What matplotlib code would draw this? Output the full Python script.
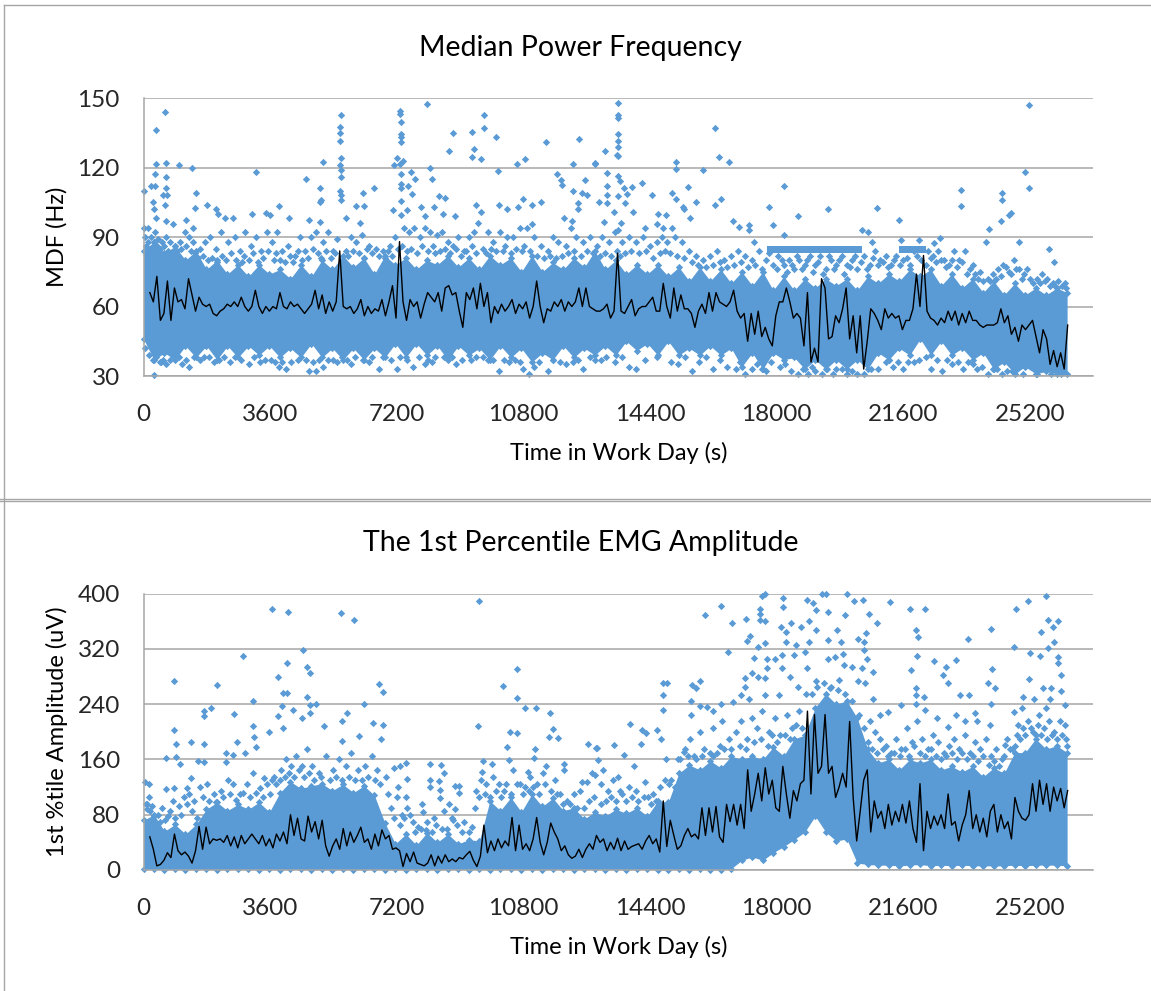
# Median power frequency and 1st percentile EMG amplitude over a work day
import numpy as np
import matplotlib
matplotlib.use("Agg")
import matplotlib.pyplot as plt
from matplotlib.lines import Line2D

plt.rcParams["font.family"] = ["Lato", "DejaVu Sans"]

BLUE = "#5B9BD5"
GRID = "#A6A6A6"
W, H = 1151, 991

time_ticks = [0, 3600, 7200, 10800, 14400, 18000, 21600, 25200]
mdf_ticks = [30, 60, 90, 120, 150]
amp_ticks = [0, 80, 160, 240, 320, 400]

# ----------------------------------------
# Median power frequency (Hz)
# ----------------------------------------
# dense part of the cloud, upper and lower edge
mdf_band_hi = [84, 88, 83, 86, 80, 84, 76, 80, 74, 78,
               73, 78, 74, 76, 72, 78, 73, 80, 76, 82,
               77, 81, 74, 82, 78, 81, 76, 80, 78, 82,
               77, 81, 76, 82, 78, 81, 75, 82, 75, 79,
               76, 81, 77, 84, 76, 80, 74, 78, 74, 78,
               73, 77, 71, 77, 71, 76, 70, 75, 69, 75,
               67, 73, 67, 72, 68, 72, 69, 72, 67, 73,
               70, 74, 71, 76, 73, 76, 69, 74, 68, 72,
               66, 71, 65, 70, 65, 68, 65, 68, 66]
mdf_band_lo = [46, 37, 40, 37, 43, 38, 43, 37, 43, 38,
               43, 39, 43, 38, 42, 38, 44, 38, 42, 37,
               42, 37, 42, 38, 44, 38, 44, 39, 43, 37,
               43, 39, 42, 37, 43, 38, 42, 36, 40, 37,
               43, 38, 42, 39, 43, 39, 45, 41, 44, 39,
               45, 39, 42, 39, 43, 39, 42, 34, 40, 33,
               40, 37, 38, 33, 37, 33, 37, 33, 37, 33,
               40, 37, 42, 39, 46, 39, 45, 39, 42, 37,
               40, 33, 36, 31, 34, 31, 32, 31, 31]

# single points above and below the dense part
mdf_points = [
    (598, 144), (359, 136), (0, 110), (359, 121.5), (326, 117), (218, 112), (326, 112), (631, 122),
    (631, 116), (653, 111), (544, 108), (675, 108), (598, 104), (272, 105), (294, 102), (359, 98),
    (0, 94), (141, 94), (653, 97), (849, 95.5), (1012, 121), (1382, 120), (1501, 109), (1469, 102.5),
    (1219, 97.5), (1414, 94), (1817, 104), (2067, 102), (2122, 100), (2317, 98), (2535, 98), (3079, 100),
    (3210, 118), (3482, 100.5), (3590, 99.5), (3841, 103.5), (4134, 98), (4624, 115), (4711, 97.5),
    (5027, 111), (5092, 122.5), (5059, 106), (5005, 105), (5005, 96.5), (5603, 142.5), (5582, 137.5),
    (5582, 135), (5582, 131.5), (5603, 124), (5582, 121), (5603, 119), (5603, 116), (5582, 110),
    (5603, 108), (5603, 106), (5745, 98), (6038, 103.5), (6234, 109), (6256, 103.5), (6561, 111),
    (6147, 96), (7105, 101.5), (7290, 144.5), (7290, 143), (7322, 139.5), (7311, 134.5), (7311, 133),
    (7311, 131), (7126, 121), (7214, 124), (7365, 123), (7290, 121.5), (7311, 117), (7311, 113),
    (7311, 111), (7311, 105.5), (7616, 118), (7725, 115), (7529, 112), (7627, 108.5), (7496, 101.5),
    (7311, 99.5), (8062, 147.5), (8160, 120), (8214, 115), (7888, 103), (8400, 107.5), (8573, 107),
    (8269, 103), (8000, 99), (8519, 100), (8867, 99), (8682, 127), (8813, 135), (9335, 135.5),
    (9390, 128), (9335, 124.5), (9585, 123.5), (9694, 142.5), (9694, 137), (10020, 133), (10086, 118.5),
    (9444, 104), (10097, 104), (10336, 102), (9607, 101), (10630, 121.5), (10858, 123.5), (11456, 131),
    (11750, 117), (11859, 114.5), (11892, 112.5), (10793, 106.5), (10662, 103), (11043, 104),
    (11293, 105), (11043, 95.5), (11946, 98), (12207, 121.5), (12381, 132.5), (12566, 114.5),
    (12838, 121.7), (12207, 110), (12457, 109), (12599, 108), (12348, 104.5), (12348, 102), (12186, 97),
    (12947, 105), (13485, 148), (13485, 142.5), (13507, 141.5), (13507, 134.5), (13485, 131.5),
    (13485, 129), (13474, 125.5), (13507, 125), (13131, 127), (12842, 122), (13185, 117.5), (13485, 116.5),
    (13560, 114), (13174, 112), (13667, 111), (13903, 111.5), (14171, 113.5), (13753, 108.5),
    (13485, 107.5), (13174, 108), (14450, 108), (13185, 104.5), (13700, 104.5), (13378, 101), (13914, 101),
    (14632, 100), (14847, 99.5), (13099, 96.5), (13592, 96), (13507, 93), (14257, 94), (14600, 95.5),
    (14761, 94), (15018, 94), (15136, 122.5), (15136, 119.5), (15919, 119), (15040, 109), (15136, 106.5),
    (15490, 111.5), (15704, 105), (15329, 103), (15383, 102), (15543, 98), (16240, 137), (16369, 124.7),
    (16637, 122.5), (16423, 106.5), (16250, 104), (16776, 97), (16937, 94.5), (17205, 95), (17205, 93),
    (17355, 88), (17784, 103), (17912, 95), (18223, 112), (18223, 91), (18599, 99), (19456, 102),
    (20442, 93), (20592, 92), (20850, 102.5), (20710, 88), (21493, 97.5), (21547, 88.5), (22061, 88.5),
    (22651, 89.5), (22490, 87.5), (23240, 110.5), (23251, 103.5), (24387, 97), (24409, 109), (24409, 106),
    (24602, 99.5), (24677, 100.5), (24044, 93.5), (23959, 88), (24891, 88), (25073, 118), (25170, 111),
    (25181, 147), (25738, 85), (25888, 79),
]

# looser points just outside the dense part
mdf_speckle = [
    (50, 90), (120, 88), (200, 90), (320, 92), (420, 89), (520, 88), (640, 90), (760, 88), (900, 86),
    (1050, 88), (1180, 92), (1300, 90), (1420, 88), (1600, 85), (1750, 88), (1900, 90), (2050, 85),
    (2200, 92), (2400, 88), (2600, 90), (2750, 84), (2900, 92), (3050, 86), (3200, 90), (3350, 84),
    (3500, 92), (3650, 88), (3800, 92), (3950, 84), (4100, 86), (4300, 82), (4450, 90), (4600, 84),
    (4750, 90), (4900, 92), (5100, 88), (5250, 92), (5400, 84), (5500, 89), (5750, 84), (5900, 90),
    (6050, 88), (6200, 91), (6400, 86), (6600, 85), (6800, 84), (7000, 86), (7150, 90), (7400, 94),
    (7550, 92), (7700, 94), (7850, 90), (8000, 94), (8150, 92), (8350, 91), (8500, 92), (8650, 88),
    (8800, 86), (8950, 90), (9100, 84), (9250, 90), (9400, 92), (9500, 96), (9800, 92), (9950, 88),
    (10150, 92), (10350, 90), (10500, 90), (10700, 94), (10900, 94), (11100, 90), (11300, 86), (11500, 84),
    (11650, 90), (11800, 88), (12000, 86), (12150, 94), (12300, 90), (12500, 88), (12700, 90), (12900, 86),
    (13050, 90), (13250, 88), (13400, 92), (13600, 88), (13800, 90), (14000, 88), (14200, 90), (14400, 86),
    (14600, 88), (14750, 90), (14900, 88), (15100, 90), (15300, 88), (15500, 84), (15700, 82), (15900, 80),
    (16100, 82), (16300, 84), (16500, 80), (16700, 82), (16900, 84), (17100, 82), (17300, 80), (17500, 84),
    (17700, 80), (17900, 78), (18050, 82), (18200, 78), (18350, 80), (18500, 76), (18650, 80), (18800, 78),
    (18950, 82), (19100, 78), (19250, 82), (19400, 76), (19550, 80), (19700, 78), (19850, 82), (20000, 78),
    (20150, 80), (20300, 76), (20500, 82), (20650, 78), (20800, 84), (20950, 80), (21100, 82), (21250, 78),
    (21400, 82), (21600, 80), (21800, 78), (22000, 82), (22300, 84), (22450, 82), (22600, 84), (22750, 80),
    (22900, 78), (23050, 84), (23200, 80), (23350, 84), (23500, 76), (23650, 74), (23800, 75), (24000, 72),
    (24150, 74), (24300, 76), (24450, 78), (24600, 75), (24750, 80), (24900, 76), (25050, 74), (25200, 72),
    (25400, 72), (25550, 74), (25700, 72), (25850, 70), (26000, 71), (26230, 68),
    (300, 30.5), (500, 36), (650, 35), (1100, 35), (1300, 34), (1600, 37), (2000, 36), (2450, 36),
    (3000, 35), (3300, 36), (3850, 34), (4050, 33), (4700, 32), (4900, 32), (5100, 34), (5500, 36),
    (5900, 35), (6400, 36), (6700, 33), (7200, 33), (7650, 34), (8000, 35), (8200, 36), (8900, 35),
    (9300, 37), (9800, 37), (10100, 32), (10400, 36), (10800, 33), (10950, 31), (11100, 34), (11500, 32),
    (12000, 35), (12200, 36), (12500, 33), (13000, 37), (13400, 36), (13800, 34), (14000, 33), (15000, 36),
    (15200, 35), (15600, 32), (16200, 33), (16600, 34), (17100, 31), (17300, 33), (17700, 32), (18400, 32),
    (18900, 31), (19100, 32), (19300, 31), (19700, 33), (20000, 31), (20300, 31), (20500, 31), (20900, 33),
    (21300, 34), (21600, 33), (21900, 36), (22400, 33), (22700, 32), (23000, 35), (23300, 33), (23700, 33),
    (24000, 31), (24400, 31), (24700, 32), (25000, 31), (25400, 31), (25800, 31), (26100, 31),
]

# points right on the edge of the dense part
mdf_edge = [
    (80, 86), (210, 84), (290, 88), (370, 86), (470, 85), (580, 86), (690, 84), (830, 83), (960, 84),
    (1080, 85), (1210, 86), (1340, 84), (1470, 83), (1560, 81), (1690, 82), (1820, 80), (1950, 81),
    (2100, 79), (2230, 82), (2340, 80), (2480, 83), (2630, 80), (2790, 79), (2860, 82), (2990, 80),
    (3120, 83), (3260, 79), (3400, 81), (3530, 84), (3700, 80), (3760, 83), (3890, 80), (4020, 79),
    (4180, 82), (4260, 79), (4380, 84), (4520, 80), (4680, 81), (4820, 85), (4970, 83), (5060, 81),
    (5180, 84), (5320, 81), (5450, 83), (5660, 80), (5820, 82), (5970, 84), (6120, 83), (6280, 81),
    (6360, 85), (6510, 83), (6700, 82), (6880, 81), (6950, 84), (7080, 82), (7230, 85), (7340, 86),
    (7480, 84), (7600, 85), (7780, 83), (7930, 86), (8080, 84), (8230, 86), (8300, 83), (8420, 84),
    (8580, 85), (8720, 83), (8880, 85), (9020, 82), (9170, 84), (9330, 86), (9460, 83), (9640, 85),
    (9730, 83), (9870, 85), (10010, 84), (10210, 84), (10290, 86), (10440, 83), (10590, 85), (10760, 84),
    (10830, 86), (10990, 84), (11180, 82), (11380, 81), (11560, 82), (11720, 81), (11900, 82), (12070, 83),
    (12230, 84), (12430, 82), (12620, 84), (12790, 83), (12990, 82), (13130, 83), (13300, 82), (13460, 84),
    (13550, 82), (13690, 83), (13850, 84), (14080, 83), (14280, 84), (14480, 81), (14680, 83), (14820, 84),
    (14980, 83), (15170, 82), (15360, 81), (15600, 79), (15780, 78), (15990, 77), (16190, 78), (16400, 79),
    (16590, 77), (16800, 78), (17000, 79), (17200, 77), (17400, 78), (17600, 76), (17800, 83), (18000, 76),
    (18150, 80), (18290, 75), (18430, 78), (18570, 82), (18730, 76), (18880, 80), (19030, 75), (19180, 79),
    (19330, 74), (19480, 82), (19630, 76), (19780, 80), (19930, 74), (20080, 77), (20230, 82), (20400, 79),
    (20580, 76), (20730, 81), (20880, 78), (21030, 79), (21180, 77), (21330, 80), (21500, 78), (21700, 81),
    (21900, 84), (22100, 80), (22250, 78), (22380, 81), (22530, 79), (22680, 80), (22830, 77), (22980, 80),
    (23120, 77), (23280, 79), (23430, 74), (23580, 78), (23720, 72), (23880, 71), (24080, 71), (24230, 72),
    (24380, 73), (24520, 77), (24680, 74), (24820, 76), (24980, 72), (25120, 76), (25280, 70), (25480, 70),
    (25630, 71), (25780, 69), (25930, 69), (26120, 69), (26200, 70),
    (40, 42), (150, 39), (260, 37), (360, 38), (460, 36), (560, 37), (760, 37), (880, 38), (1000, 38),
    (1220, 37), (1450, 38), (1720, 38), (1850, 38), (2150, 37), (2280, 38), (2600, 38), (2780, 37),
    (3150, 38), (3450, 37), (3620, 37), (3740, 36), (3950, 36), (4200, 36), (4400, 37), (4620, 37),
    (4820, 36), (5000, 37), (5250, 37), (5380, 37), (5650, 38), (5800, 37), (6020, 38), (6250, 37),
    (6500, 38), (6820, 38), (7050, 37), (7300, 38), (7480, 37), (7820, 38), (8080, 37), (8300, 38),
    (8550, 38), (8780, 38), (9050, 37), (9450, 38), (9650, 38), (9950, 37), (10250, 37), (10550, 37),
    (10700, 36), (11250, 36), (11650, 37), (11850, 36), (12350, 37), (12700, 38), (12850, 37), (13150, 38),
    (13600, 38), (14250, 37), (14600, 38), (15400, 38), (15800, 36), (16000, 38), (16400, 37), (16850, 33),
    (16950, 36), (17450, 35), (17600, 33), (17850, 36), (18100, 34), (18250, 35), (18600, 31), (18750, 33),
    (19000, 34), (19450, 33), (19600, 31), (19850, 33), (20150, 32), (20700, 33), (21100, 36), (21200, 37),
    (21450, 36), (21750, 36), (22050, 37), (22250, 38), (22550, 37), (22850, 37), (23150, 36), (23450, 36),
    (23600, 35), (23850, 34), (24150, 33), (24280, 33), (24550, 32), (24850, 33),
]

# flat row of points near 85 Hz in the afternoon
mdf_ledge_t = [17740, 20420, 21490, 22240]
mdf_ledge_top = [86.2, 86.2, 86.2, 86.2]
mdf_ledge_bottom = [83.2, 83.2, 83.2, 83.2]

# moving average, one value per 100 s from 180 s
mdf_line = [66, 62, 73, 54, 57, 71, 54, 68, 62, 63,
            59, 72, 65, 58, 64, 61, 60, 61, 57, 56,
            58, 59, 61, 60, 62, 60, 64, 60, 58, 60,
            67, 60, 57, 60, 58, 60, 59, 66, 60, 59,
            62, 60, 61, 59, 57, 59, 61, 67, 59, 65,
            57, 62, 58, 62, 84, 60, 59, 60, 57, 59,
            63, 56, 60, 57, 59, 58, 63, 56, 62, 69,
            55, 88, 62, 54, 63, 60, 62, 55, 61, 66,
            64, 62, 66, 58, 68, 69, 65, 66, 58, 51,
            66, 63, 68, 59, 70, 60, 66, 53, 60, 57,
            61, 58, 60, 63, 57, 61, 59, 62, 55, 60,
            71, 60, 53, 59, 58, 62, 60, 63, 58, 62,
            60, 62, 68, 60, 68, 60, 59, 58, 58, 59,
            61, 55, 58, 83, 58, 57, 60, 63, 56, 59,
            60, 60, 62, 64, 58, 58, 70, 60, 55, 68,
            58, 65, 59, 59, 57, 51, 58, 61, 57, 66,
            58, 66, 62, 61, 60, 62, 67, 58, 55, 57,
            45, 57, 48, 58, 47, 51, 46, 43, 56, 62,
            62, 68, 62, 55, 57, 55, 43, 66, 36, 42,
            36, 72, 68, 46, 47, 56, 53, 59, 68, 46,
            56, 40, 56, 33, 45, 59, 57, 54, 50, 59,
            55, 57, 55, 56, 50, 54, 54, 59, 74, 60,
            82, 58, 55, 54, 52, 55, 53, 58, 54, 58,
            52, 57, 53, 58, 54, 54, 52, 51, 52, 52,
            52, 53, 59, 53, 56, 48, 51, 45, 52, 50,
            52, 54, 47, 40, 50, 46, 35, 41, 34, 40,
            33, 52]

# ----------------------------------------
# 1st percentile amplitude (uV)
# ----------------------------------------
amp_band_hi = [72, 80, 56, 66, 52, 66, 88, 98, 86, 95,
               88, 98, 84, 112, 128, 118, 122, 125, 115, 124,
               112, 122, 108, 68, 38, 52, 36, 54, 40, 52,
               38, 44, 42, 100, 86, 105, 84, 110, 92, 104,
               86, 90, 74, 84, 78, 88, 82, 90, 78, 100,
               98, 140, 152, 145, 158, 148, 165, 160, 165, 160,
               178, 165, 190, 195, 235, 255, 240, 245, 220, 175,
               155, 160, 145, 160, 155, 160, 145, 150, 142, 150,
               135, 148, 140, 170, 170, 190, 175, 180, 170]
amp_band_lo = [1, 1, 0, 1, 0, 1, 1, 0, 1, 1,
               1, 0, 1, 0, 1, 1, 0, 1, 0, 1,
               0, 1, 1, 0, 1, 0, 1, 1, 0, 1,
               1, 0, 1, 0, 1, 1, 0, 1, 0, 1,
               1, 0, 1, 1, 0, 1, 0, 1, 1, 0,
               0, 1, 0, 1, 0, 0, 2, 14, 19, 14,
               25, 34, 44, 55, 78, 55, 42, 45, 10, 8,
               7, 7, 6, 7, 8, 6, 7, 6, 7, 6,
               6, 6, 6, 7, 6, 7, 7, 7, 6]

amp_points = [
    (3645, 378), (4102, 374), (5603, 372), (5995, 362), (9531, 390), (2829, 310), (4548, 318), (4080, 300),
    (4646, 294), (4733, 285), (3819, 280), (870, 273), (2100, 268), (6691, 269), (6822, 257), (3971, 256),
    (4080, 256), (4646, 250), (3101, 244), (6278, 240), (4918, 240), (4733, 239), (3939, 237), (1708, 230),
    (1708, 223), (1926, 235), (2568, 226), (4265, 231), (3819, 223), (4515, 220), (4733, 227), (5788, 227),
    (5636, 216), (6528, 213), (6800, 210), (5146, 208), (3101, 209), (3971, 206), (870, 202), (3569, 200),
    (3133, 193), (6125, 194), (2666, 186), (1360, 186), (1719, 182), (925, 182), (5636, 187), (6746, 190),
    (9520, 209), (10630, 291), (10227, 266), (10630, 249), (10858, 235), (11152, 234), (11555, 228),
    (10423, 200), (10630, 199), (11642, 204), (11533, 193), (11783, 191), (11130, 175), (12653, 182),
    (12871, 176), (9651, 158), (8138, 153), (8454, 152), (7453, 155), (7290, 150), (7126, 147), (8541, 140),
    (7496, 132), (8138, 130), (8400, 129), (8867, 122), (8976, 122), (7235, 120), (8138, 120), (8432, 116),
    (8976, 112), (7453, 106), (8432, 104), (8867, 89), (7932, 96), (7943, 84), (33, 128), (163, 124),
    (163, 105), (109, 96), (653, 117), (653, 162), (925, 164), (1034, 154), (1719, 157), (1545, 158),
    (2339, 157), (2339, 169), (2557, 166), (3210, 178), (2883, 169), (3427, 133), (3645, 130), (1251, 118),
    (870, 118), (1360, 133), (9629, 142), (9900, 154), (10336, 178), (10390, 159), (10934, 142), (11098, 162),
    (11968, 154), (11968, 145), (12620, 128), (12457, 128), (12838, 137),
    (13367, 181), (12885, 176), (13828, 212), (14171, 202), (14289, 198), (14600, 202), (14150, 183),
    (14718, 190), (13667, 166), (12917, 159), (13078, 145), (13507, 135), (13935, 150), (14257, 128),
    (14771, 270), (14900, 270), (14761, 253), (14761, 232), (15597, 268), (15812, 273), (15704, 264),
    (15565, 245), (15575, 224), (15812, 237), (16026, 236), (16187, 230), (16423, 240), (15972, 369),
    (16412, 382), (16744, 358), (17130, 363), (16616, 316), (17258, 339), (17151, 331), (17527, 378),
    (17527, 370), (17580, 396), (17687, 400), (18191, 394), (18191, 381), (17687, 361), (17527, 362),
    (17687, 328), (17473, 323), (17366, 307), (17720, 305), (17956, 306), (17720, 293), (17312, 285),
    (17473, 280), (17687, 278), (17098, 278), (17098, 265), (18116, 352), (18406, 357), (18706, 352),
    (18867, 391), (19027, 386), (19113, 376), (19295, 400), (19402, 400), (20014, 400), (19478, 373),
    (19960, 369), (20207, 390), (20454, 391), (20635, 370), (20850, 358), (21225, 388), (21804, 378),
    (22222, 378), (21954, 348), (22029, 337), (24087, 349), (23444, 334), (24763, 323), (24805, 378),
    (25148, 390), (25674, 397), (25727, 362), (25995, 360), (25867, 352), (25513, 345), (25899, 330),
    (25717, 321), (25202, 314), (25481, 310), (25995, 309), (25995, 300), (26092, 282), (25170, 276),
    (25577, 264), (25813, 264), (26081, 259), (25309, 248), (25009, 250), (24119, 291), (24012, 270),
    (24205, 264), (23208, 254), (23476, 254), (24098, 241), (22726, 283), (22833, 294), (22865, 270),
    (22479, 302), (23101, 304), (21997, 310), (21815, 290), (21975, 263), (21975, 253), (21975, 241),
    (22190, 250), (22222, 232), (21547, 239), (20957, 224), (21171, 229), (23101, 224), (23636, 228),
    (20742, 286), (20582, 306), (20475, 318), (20550, 343), (20475, 330), (20314, 335), (20153, 294),
    (20421, 292), (20528, 270), (20742, 248), (20314, 273), (19831, 330), (19885, 313), (19724, 347),
    (19456, 333), (19478, 306), (19670, 309), (19906, 297), (19778, 275), (19510, 264), (19135, 273),
    (18867, 292), (18813, 316), (18920, 330), (18545, 326), (18492, 311), (18170, 311), (18170, 292),
    (18384, 280), (18599, 265), (18062, 253), (17687, 253), (17205, 248), (16990, 253), (16776, 243),
    (16455, 215), (16187, 205), (15812, 200), (15543, 190), (15383, 171), (18277, 345), (18920, 360),
    (19135, 347), (18277, 330), (22565, 220), (22887, 207), (23364, 215), (23690, 215), (24065, 210),
    (24494, 181), (24763, 229), (24977, 234), (25674, 234), (26210, 239), (26210, 210), (25770, 248),
    (25460, 224), (24870, 210),
]

# looser points just above the dense part
amp_speckle = [
    (100, 88), (250, 92), (400, 80), (520, 90), (700, 78), (850, 100), (1000, 92), (1150, 105), (1300, 110),
    (1450, 100), (1600, 120), (1800, 125), (2000, 110), (2200, 115), (2400, 130), (2550, 125), (2750, 110),
    (2950, 125), (3100, 140), (3300, 118), (3500, 125), (3700, 135), (3900, 145), (4050, 160), (4200, 150),
    (4350, 165), (4500, 150), (4650, 175), (4800, 150), (5000, 140), (5200, 165), (5400, 145), (5550, 160),
    (5750, 150), (5900, 170), (6100, 145), (6300, 150), (6500, 165), (6650, 145), (6900, 135), (7050, 90),
    (7200, 105), (7350, 80), (7500, 90), (7650, 70), (7800, 62), (8050, 70), (8250, 75), (8550, 85),
    (8700, 95), (8800, 72), (9100, 70), (9250, 55), (9450, 115), (9600, 130), (9750, 125), (9950, 135),
    (10100, 125), (10250, 115), (10500, 145), (10700, 125), (10850, 120), (11000, 135), (11200, 125),
    (11350, 140), (11450, 150), (11700, 130), (11850, 110), (12050, 100), (12250, 110), (12400, 115),
    (12750, 140), (13000, 125), (13200, 115), (13350, 130), (13600, 110), (13800, 120), (14000, 115),
    (14350, 105), (14500, 110), (14850, 160), (15000, 130), (15200, 160), (15400, 175), (15650, 165),
    (15950, 175), (16200, 165), (16400, 180), (16650, 190), (16850, 200), (17000, 215), (17150, 190),
    (17300, 220), (17450, 205), (17600, 230), (17800, 200), (17950, 220), (18100, 195), (18300, 225),
    (18450, 205), (18650, 230), (20350, 225), (20500, 205), (20650, 215), (20800, 200), (20950, 190),
    (21100, 180), (21250, 170), (21400, 190), (21550, 175), (21700, 205), (21850, 185), (22000, 215),
    (22150, 190), (22300, 175), (22450, 195), (22600, 185), (22750, 170), (22900, 180), (23050, 190),
    (23200, 175), (23350, 195), (23500, 170), (23650, 185), (23800, 175), (23950, 190), (24100, 165),
    (24250, 175), (24400, 160), (24550, 190), (24700, 175), (24850, 195), (25000, 205), (25150, 215),
    (25300, 200), (25450, 210), (25600, 205), (25750, 215), (25900, 200), (26050, 215), (26230, 190),
]

# points right on the edge of the dense part
amp_edge = [
    (60, 95), (190, 85), (310, 78), (460, 70), (610, 72), (760, 85), (900, 75), (1080, 80), (1230, 95),
    (1390, 85), (1530, 75), (1680, 105), (1870, 100), (2060, 98), (2270, 105), (2470, 110), (2640, 102),
    (2830, 112), (3020, 105), (3190, 112), (3410, 105), (3590, 110), (3760, 125), (3880, 130), (4020, 135),
    (4130, 140), (4290, 135), (4420, 145), (4570, 135), (4700, 140), (4860, 130), (5060, 135), (5290, 130),
    (5470, 135), (5650, 130), (5830, 135), (6000, 130), (6200, 130), (6390, 135), (6570, 130), (6730, 125),
    (6960, 110), (7120, 75), (7280, 65), (7410, 75), (7580, 80), (7720, 55), (7880, 60), (8020, 58),
    (8200, 55), (8330, 65), (8480, 60), (8620, 60), (8760, 75), (8920, 65), (9050, 55), (9330, 62),
    (9420, 90), (9550, 105), (9700, 110), (9850, 105), (10020, 115), (10180, 105), (10320, 125), (10450, 110),
    (10620, 125), (10780, 110), (10950, 115), (11080, 120), (11260, 110), (11420, 125), (11580, 115),
    (11770, 110), (11920, 95), (12120, 95), (12320, 90), (12520, 90), (12680, 100), (12820, 105), (13010, 95),
    (13140, 100), (13290, 105), (13450, 100), (13560, 115), (13720, 100), (13880, 105), (14060, 100),
    (14220, 105), (14420, 95), (14560, 100), (14680, 120), (14820, 130), (14950, 125), (15100, 120),
    (15250, 160), (15480, 165), (15720, 160), (15880, 165), (16100, 170), (16300, 170), (16520, 175),
    (16720, 175), (16950, 180), (17120, 175), (17350, 185), (17550, 190), (17750, 180), (17880, 195),
    (18020, 185), (18230, 195), (18380, 190), (18550, 210), (18720, 205), (18850, 255), (19000, 255),
    (19150, 265), (19350, 270), (19550, 265), (19750, 260), (19950, 255), (20150, 245), (20280, 190),
    (20430, 180), (20600, 185), (20720, 175), (20870, 170), (21020, 175), (21180, 165), (21350, 170),
    (21500, 165), (21650, 175), (21780, 165), (21920, 180), (22080, 170), (22230, 165), (22380, 175),
    (22530, 165), (22680, 160), (22830, 165), (22980, 170), (23130, 160), (23280, 170), (23430, 160),
    (23580, 165), (23730, 158), (23880, 165), (24030, 152), (24180, 158), (24330, 150), (24480, 165),
    (24630, 175), (24780, 180), (24930, 190), (25080, 195), (25230, 205), (25380, 195), (25530, 195),
    (25680, 190), (25830, 195), (25980, 190), (26130, 195), (26250, 180),
]

# moving average, one value per 100 s from 180 s
amp_line = [48, 30, 6, 8, 14, 25, 18, 52, 28, 22,
            26, 20, 10, 28, 63, 30, 62, 38, 45, 43,
            45, 40, 50, 35, 48, 32, 50, 38, 45, 52,
            45, 38, 50, 35, 45, 32, 52, 42, 55, 38,
            80, 50, 75, 45, 42, 78, 55, 70, 45, 72,
            35, 20, 35, 45, 30, 60, 35, 55, 40, 50,
            62, 40, 45, 30, 52, 35, 58, 45, 50, 30,
            32, 28, 5, 24, 12, 26, 10, 8, 6, 10,
            22, 6, 20, 10, 22, 12, 16, 12, 18, 16,
            22, 27, 14, 5, 20, 65, 25, 42, 28, 45,
            32, 42, 35, 76, 28, 65, 30, 38, 28, 45,
            76, 40, 22, 40, 68, 55, 45, 28, 35, 22,
            17, 20, 30, 18, 30, 38, 30, 50, 40, 45,
            28, 40, 30, 46, 28, 42, 30, 34, 36, 38,
            30, 42, 50, 38, 45, 26, 100, 34, 72, 50,
            30, 35, 50, 60, 48, 52, 45, 90, 50, 90,
            55, 92, 48, 40, 95, 70, 95, 65, 95, 60,
            145, 85, 110, 140, 100, 148, 110, 130, 90, 85,
            150, 110, 75, 115, 100, 125, 130, 230, 110, 225,
            140, 150, 225, 140, 150, 105, 120, 140, 120, 215,
            105, 42, 85, 130, 145, 55, 100, 75, 85, 60,
            95, 65, 85, 70, 95, 68, 100, 60, 40, 125,
            28, 85, 60, 78, 65, 80, 60, 110, 65, 70,
            42, 65, 80, 115, 60, 80, 55, 75, 48, 85,
            95, 55, 80, 60, 70, 45, 105, 85, 75, 72,
            80, 125, 85, 130, 95, 125, 85, 120, 100, 118,
            90, 115]


def axes_from_pixels(left, top, right, bottom):
    return fig.add_axes([left / W, 1 - bottom / H, (right - left) / W, (bottom - top) / H])


def draw_panel(ax, band_hi, band_lo, point_sets, line, ticks, title, ylabel):
    band_t = np.linspace(0, 26264, len(band_hi))
    line_t = np.linspace(180, 26280, len(line))

    ax.fill_between(band_t, band_lo, band_hi, color=BLUE, lw=0, zorder=2)
    ax.scatter(band_t, band_hi, marker="D", s=14, color=BLUE, lw=0, zorder=2, clip_on=False)
    ax.scatter(band_t, band_lo, marker="D", s=14, color=BLUE, lw=0, zorder=2, clip_on=False)
    for points in point_sets:
        pts = np.array(points)
        ax.scatter(pts[:, 0], pts[:, 1], marker="D", s=14, color=BLUE, lw=0, zorder=2, clip_on=False)
    ax.plot(line_t, line, color="black", lw=1.0, zorder=3)

    ax.set_xlim(0, 27000)
    ax.set_ylim(ticks[0], ticks[-1])
    ax.set_xticks(time_ticks)
    ax.set_yticks(ticks)
    ax.tick_params(length=0, labelsize=17.5, labelcolor="#262626")
    ax.tick_params(axis="x", pad=20.5)
    ax.tick_params(axis="y", pad=17)
    ax.grid(axis="y", color=GRID, lw=1.1)
    ax.set_axisbelow(True)
    for side in ["top", "right"]:
        ax.spines[side].set_visible(False)
    for side in ["left", "bottom"]:
        ax.spines[side].set_color(GRID)
        ax.spines[side].set_linewidth(1.1)
    ax.set_title(title, fontsize=20.5, pad=30.5, x=0.46)
    ax.set_xlabel("Time in Work Day (s)", fontsize=17, labelpad=12)
    ax.set_ylabel(ylabel, fontsize=17, labelpad=7)


fig = plt.figure(figsize=(W / 100, H / 100), dpi=100)

ax1 = axes_from_pixels(143.5, 98, 1093, 376)
draw_panel(ax1, mdf_band_hi, mdf_band_lo, [mdf_points, mdf_speckle, mdf_edge], mdf_line,
           mdf_ticks, "Median Power Frequency", "MDF (Hz)")
ax1.fill_between(mdf_ledge_t[:2], mdf_ledge_bottom[:2], mdf_ledge_top[:2], color=BLUE, lw=0, zorder=2)
ax1.fill_between(mdf_ledge_t[2:], mdf_ledge_bottom[2:], mdf_ledge_top[2:], color=BLUE, lw=0, zorder=2)

ax2 = axes_from_pixels(143.5, 593.7, 1093, 870)
draw_panel(ax2, amp_band_hi, amp_band_lo, [amp_points, amp_speckle, amp_edge], amp_line,
           amp_ticks, "The 1st Percentile EMG Amplitude", "1st %tile Amplitude (uV)")

# chart frames
for x0, y0, x1, y1 in [(4, 5, 1151, 5), (4, 5, 4, 991), (0, 499, 1151, 499), (0, 501, 1151, 501)]:
    fig.add_artist(Line2D([x0 / W, x1 / W], [1 - y0 / H, 1 - y1 / H], color=GRID, lw=1.0))

fig.savefig("out.png", dpi=100)
